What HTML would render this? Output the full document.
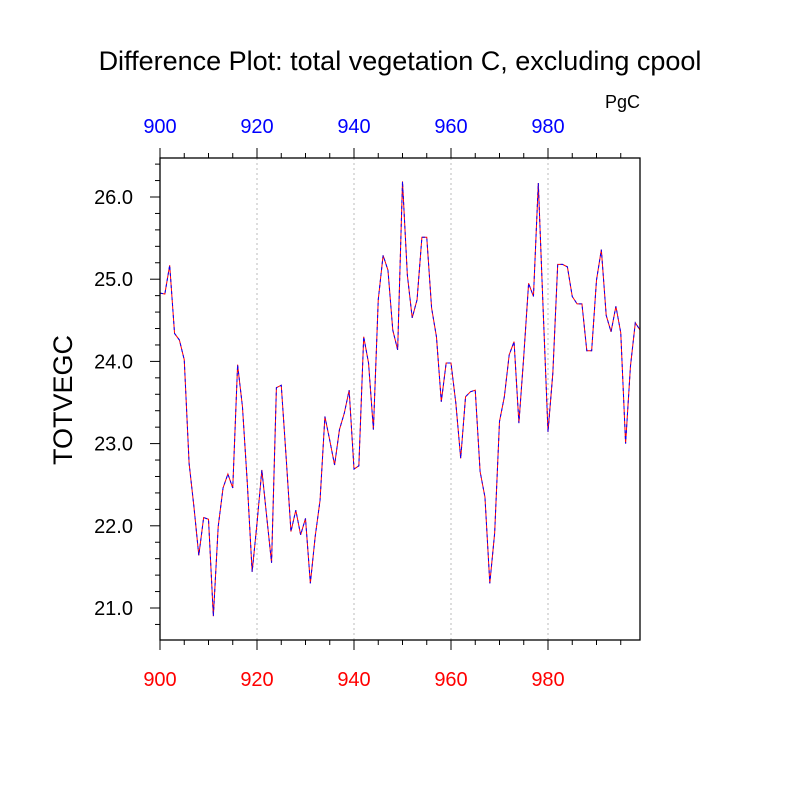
<!DOCTYPE html>
<html><head><meta charset="utf-8"><style>body{margin:0;background:#fff}svg{display:block}text{font-family:"Liberation Sans",sans-serif}</style></head>
<body>
<svg id="chart" width="800" height="800" xmlns="http://www.w3.org/2000/svg">
<text x="400" y="70" font-size="27" text-anchor="middle">Difference Plot: total vegetation C, excluding cpool</text>
<text x="640" y="108" font-size="18" text-anchor="end">PgC</text>
<text transform="translate(72,400) rotate(-90)" font-size="27" text-anchor="middle">TOTVEGC</text>
<g id="grid"></g><g id="axes"></g><g id="series"></g>
<rect x="160" y="158" width="480" height="482" fill="none" stroke="#000" stroke-width="1.3"/>
</svg>
<script>
const years = [];
for (let y = 900; y <= 999; y++) years.push(y);
const values = [24.83,24.82,25.17,24.34,24.26,24.02,22.76,22.23,21.64,22.1,
22.08,20.9,21.99,22.46,22.63,22.46,23.96,23.45,22.52,21.44,
22.03,22.68,22.11,21.55,23.68,23.71,22.84,21.93,22.19,21.89,
22.09,21.3,21.87,22.31,23.33,23.04,22.74,23.17,23.37,23.65,
22.69,22.73,24.3,23.98,23.17,24.75,25.29,25.11,24.38,24.14,
26.19,25.05,24.53,24.75,25.51,25.51,24.65,24.3,23.51,23.98,
23.98,23.49,22.82,23.57,23.63,23.65,22.66,22.35,21.3,21.91,
23.27,23.57,24.08,24.24,23.25,24.06,24.95,24.79,26.17,24.63,
23.14,23.86,25.18,25.18,25.15,24.79,24.7,24.7,24.13,24.13,
24.99,25.36,24.56,24.36,24.67,24.35,23.0,23.94,24.47,24.38];
const xTickLabels = [900,920,940,960,980];
const yTickLabels = ["21.0","22.0","23.0","24.0","25.0","26.0"];

const NS = "http://www.w3.org/2000/svg";
const X = v => 160 + (v - 900) * 4.85;
const Y = v => 197 + (26 - v) * 82.2;
function mk(tag, attrs, parent) { const e = document.createElementNS(NS, tag); for (const k in attrs) e.setAttribute(k, attrs[k]); parent.appendChild(e); return e; }
const grid = document.getElementById('grid'), axes = document.getElementById('axes'), series = document.getElementById('series');

xTickLabels.forEach(v => {
  if (v > 900) {
    const g = mk('line', {x1: X(v), x2: X(v), y1: 158, y2: 640, stroke: '#bbb', 'stroke-dasharray': '2,3'}, grid);
    
    
  }
  const t1 = mk('text', {x: X(v), y: 133, 'font-size': 20, fill: '#0000ff', 'text-anchor': 'middle'}, axes);
  t1.textContent = v;
  
  
  const t2 = mk('text', {x: X(v), y: 686, 'font-size': 20, fill: '#ff0000', 'text-anchor': 'middle'}, axes);
  t2.textContent = v;
  
  
});
for (let v = 900; v <= 995; v += 5) {
  const major = v % 20 === 0, L = major ? 10 : 5;
  const a = mk('line', {x1: X(v), x2: X(v), y1: 158, y2: 158 - L, stroke: '#000'}, axes);
  
  
  const b = mk('line', {x1: X(v), x2: X(v), y1: 640, y2: 640 + L, stroke: '#000'}, axes);
  
  
}
yTickLabels.forEach(s => {
  const t = mk('text', {x: 133, y: Y(parseFloat(s)) + 7, 'font-size': 20, 'text-anchor': 'end'}, axes);
  t.textContent = s;
  
  
});
for (let i = 103; i <= 132; i++) {
  const v = i / 5, major = i % 5 === 0;
  if (Y(v) < 158 || Y(v) > 640) continue;
  const l = mk('line', {x1: 160, x2: 160 - (major ? 10 : 5), y1: Y(v), y2: Y(v), stroke: '#000'}, axes);
  
  
}
const pts = years.map((y, i) => X(y) + ',' + Y(values[i])).join(' ');
const r = mk('polyline', {points: pts, fill: 'none', stroke: '#ff0000', 'stroke-width': 1}, series);


const b = mk('polyline', {points: pts, fill: 'none', stroke: '#0000ff', 'stroke-width': 1, 'stroke-dasharray': '3,3'}, series);


</script>
</body></html>
